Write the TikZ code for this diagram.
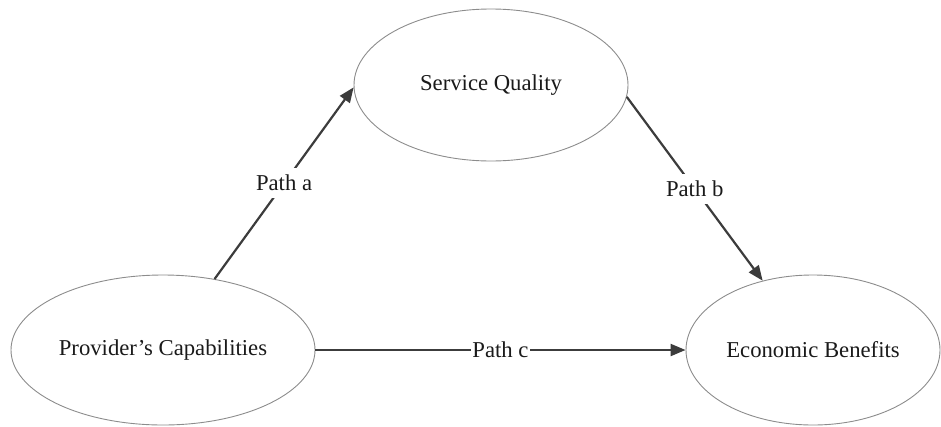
\documentclass[tikz,border=0pt]{standalone}
\usepackage{fontspec}
\setmainfont{Liberation Serif}
\usetikzlibrary{shapes.geometric,arrows.meta}
\definecolor{rim}{HTML}{8C8C8C}
\definecolor{ink}{HTML}{3C3C3C}
\definecolor{txt}{HTML}{1A1A1A}
\begin{document}
\begin{tikzpicture}[x=1pt,y=-1pt,
  construct/.style={ellipse,draw=rim,line width=0.9pt,inner sep=0pt,
    text=txt,font=\fontsize{22.7}{26}\selectfont},
  link/.style={draw=ink,line width=2.2pt,-{Triangle[length=15pt,width=12pt]}},
  pathlabel/.style={fill=white,inner xsep=1pt,inner ysep=7pt,text=txt,
    font=\fontsize{22.7}{26}\selectfont}]
  \useasboundingbox (0,0) rectangle (941,426);
  % the three constructs
  \node[construct,minimum width=274pt,minimum height=152pt] (sq) at (491,85) {Service Quality};
  \node[construct,minimum width=304pt,minimum height=150pt] (pc) at (163,350) {Provider’s Capabilities};
  \node[construct,minimum width=254pt,minimum height=150pt] (eb) at (813,350) {Economic Benefits};
  % hypothesised paths
  \draw[link] (pc.54) -- node[pathlabel] {Path a} (sq.181);
  \draw[link] (sq.-5) -- node[pathlabel] {Path b} (eb.126);
  \draw[link] (pc.east) -- node[pathlabel] {Path c} (eb.west);
\end{tikzpicture}
\end{document}
